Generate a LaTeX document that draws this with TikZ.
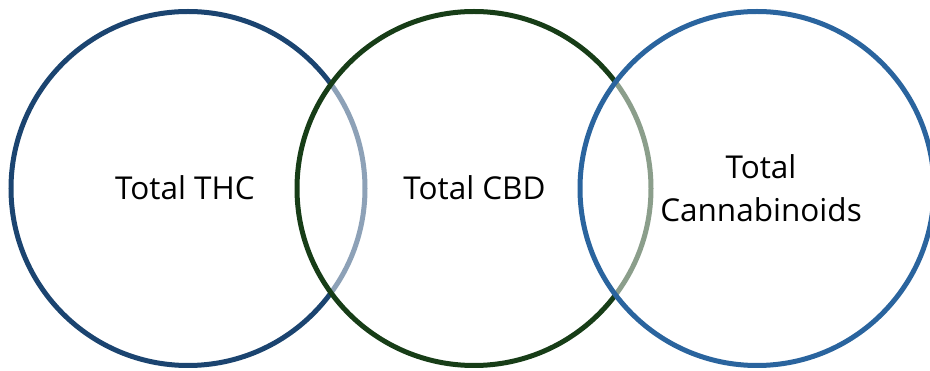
\documentclass[tikz,border=0pt]{standalone}
\usepackage{fontspec}
\setmainfont{Open Sans}
\definecolor{cA}{HTML}{1B4470}
\definecolor{cB}{HTML}{173D17}
\definecolor{cC}{HTML}{2A649E}
\begin{document}
\begin{tikzpicture}[x=1pt,y=-1pt,
  ring/.style={line width=5pt, fill=white, fill opacity=0.5, draw opacity=1},
  lbl/.style={font=\fontsize{31.5}{43}\selectfont, align=center, text=black}]
\useasboundingbox (0,0) rectangle (930,371);
\path[clip] (0,0) rectangle (930,371);
\draw[ring, draw=cA] (188,188.5) circle[radius=177];
\draw[ring, draw=cB] (474,188.5) circle[radius=177];
\draw[ring, draw=cC] (757,188.5) circle[radius=177];
\node[lbl] (thc) at (185,188) {Total THC};
\node[lbl] (cbd) at (474.5,188) {Total CBD};
\node[lbl] (can) at (761,188) {Total\\Cannabinoids};
\end{tikzpicture}
\end{document}
